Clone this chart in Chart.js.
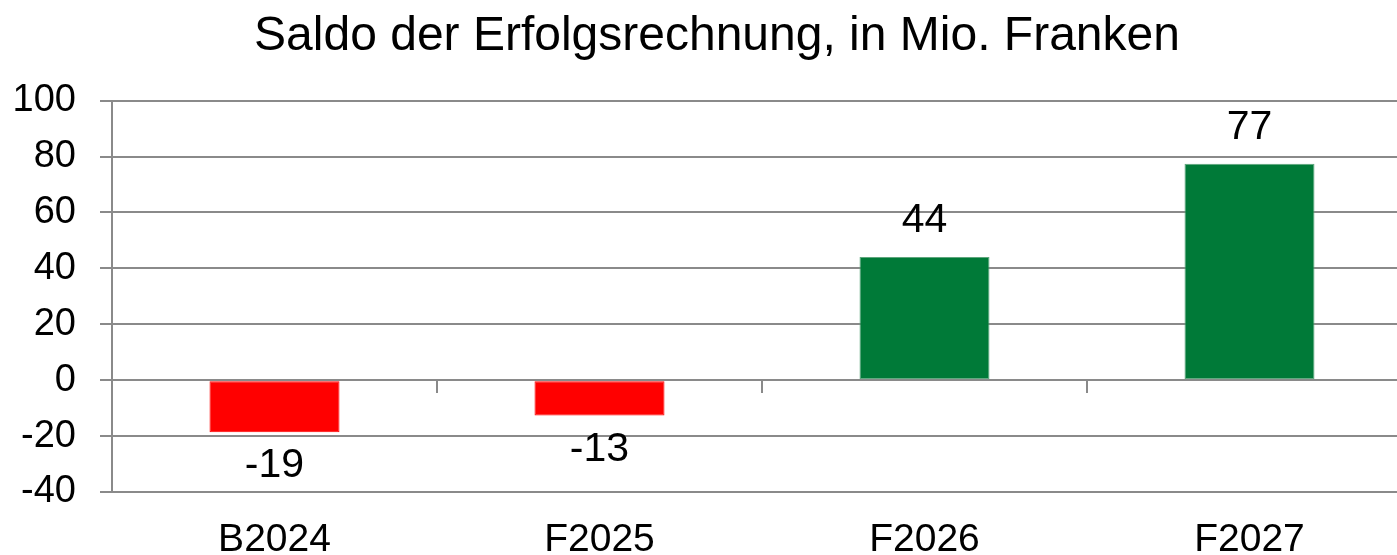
<!DOCTYPE html>
<html>
<head>
<meta charset="utf-8">
<title>Saldo der Erfolgsrechnung</title>
<script src="https://cdn.jsdelivr.net/npm/chart.js@4"></script>
<style>
  html, body { margin: 0; padding: 0; background: #fff; overflow: hidden; }
  #chart { display: block; }
</style>
</head>
<body>
<canvas id="chart" width="1434" height="555"></canvas>
<script>
// data
const categories = ["B2024", "F2025", "F2026", "F2027"];
const saldo = [-18.6, -12.6, 44.1, 77.4];
const yTicks = [-40, -20, 0, 20, 40, 60, 80, 100];

const gridGray = "#8a8a8a";
const fontFamily = "'Liberation Sans', Arial, sans-serif";

// value labels above positive bars, below negative ones
const valueLabels = {
  id: "valueLabels",
  afterDatasetsDraw(chart) {
    const ctx = chart.ctx;
    const meta = chart.getDatasetMeta(0);
    ctx.save();
    ctx.font = "41px " + fontFamily;
    ctx.fillStyle = "#000";
    ctx.textAlign = "center";
    ctx.textBaseline = "middle";
    meta.data.forEach((bar, i) => {
      const v = saldo[i];
      const y = v >= 0 ? bar.y - 36 : bar.y + 34;
      ctx.fillText(String(Math.round(v)), bar.x, y);
    });
    ctx.restore();
  },
};

// let the y tick labels use the left padding too (they get clipped to the scale box)
const widenYLabels = {
  id: "widenYLabels",
  afterLayout(chart) {
    chart.scales.y.left = 0;
  },
};

const ctx = document.getElementById("chart").getContext("2d");
new Chart(ctx, {
  type: "bar",
  data: {
    labels: categories,
    datasets: [
      {
        data: saldo,
        backgroundColor: saldo.map((v) => (v < 0 ? "#ff0000" : "#007a38")),
        borderColor: saldo.map((v) => (v < 0 ? "#ff0000" : "#5ea67c")),
        borderWidth: 1,
        borderSkipped: false,
        categoryPercentage: 1,
        barPercentage: 0.4,
      },
    ],
  },
  options: {
    responsive: false,
    animation: false,
    layout: { padding: { left: 22, right: 22, top: 0, bottom: 0 } },
    plugins: {
      legend: { display: false },
      tooltip: { enabled: false },
      title: {
        display: true,
        text: "Saldo der Erfolgsrechnung, in Mio. Franken",
        color: "#000",
        font: { family: fontFamily, size: 48, weight: "normal" },
        padding: { top: 8, bottom: 35 },
      },
    },
    scales: {
      x: {
        type: "category",
        position: "bottom",
        grid: { display: false, drawTicks: false },
        border: { display: false },
        ticks: {
          color: "#000",
          padding: 25,
          font: { family: fontFamily, size: 39 },
        },
        afterFit(scale) {
          scale.height = 63;
        },
      },
      x0: {
        type: "category",
        position: { y: 0 },
        ticks: { display: false },
        grid: {
          offset: true,
          drawOnChartArea: false,
          tickLength: 12,
          color: gridGray,
          lineWidth: 2,
        },
        border: { color: gridGray, width: 2 },
      },
      y: {
        min: yTicks[0],
        max: yTicks[yTicks.length - 1],
        afterBuildTicks(scale) {
          scale.ticks = yTicks.map((v) => ({ value: v }));
        },
        grid: { color: gridGray, lineWidth: 2, tickLength: 12 },
        border: { color: gridGray, width: 2 },
        ticks: {
          color: "#000",
          padding: 24,
          font: { family: fontFamily, size: 38 },
        },
        afterFit(scale) {
          scale.width = 90;
        },
      },
    },
  },
  plugins: [valueLabels, widenYLabels],
});
</script>
</body>
</html>
